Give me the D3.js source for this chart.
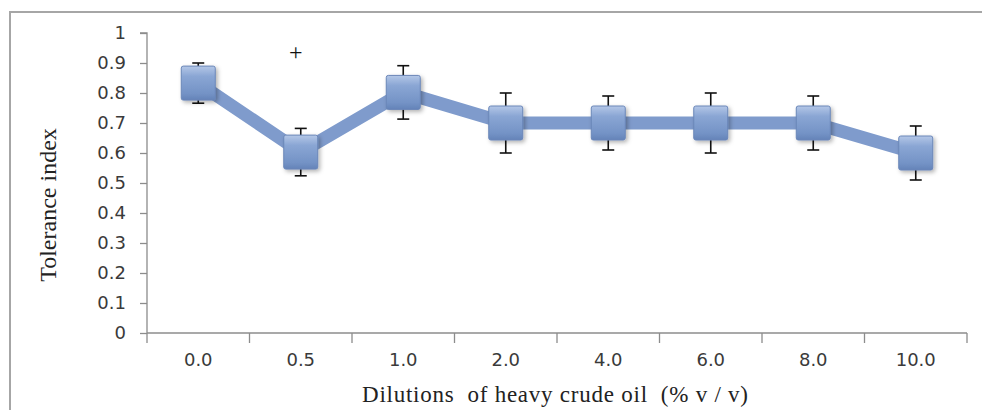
<!DOCTYPE html>
<html>
<head>
<meta charset="utf-8">
<script src="https://cdn.jsdelivr.net/npm/d3@7"></script>
<style>
  body { margin: 0; background: #fff; }
  .axis path, .axis line { stroke: #8c8c8c; stroke-width: 1.3; }
  .title { font-family: 'Liberation Serif', serif; fill: #222; }
</style>
</head>
<body>
<div id="target"></div>
<script>
const categories = ['0.0', '0.5', '1.0', '2.0', '4.0', '6.0', '8.0', '10.0'];
const means = [0.833, 0.603, 0.802, 0.7, 0.7, 0.7, 0.7, 0.6];
const errors = [0.067, 0.079, 0.089, 0.1, 0.09, 0.1, 0.09, 0.09];
const yTicks = [0, 0.1, 0.2, 0.3, 0.4, 0.5, 0.6, 0.7, 0.8, 0.9, 1];
const marks = [{cat: '0.5', value: 0.937, label: '+'}];

const width = 982;
const height = 410;
const margin = {top: 33, right: 15, bottom: 77, left: 147};

const svg = d3.select('#target')
  .append('svg')
  .attr('width', width)
  .attr('height', height);

const defs = svg.append('defs');
const grad = defs.append('linearGradient')
  .attr('id', 'box').attr('x1', 0).attr('y1', 0).attr('x2', 0).attr('y2', 1);
grad.append('stop').attr('offset', '0%').attr('stop-color', '#b4c7e7');
grad.append('stop').attr('offset', '30%').attr('stop-color', '#8aa6d4');
grad.append('stop').attr('offset', '80%').attr('stop-color', '#7493c6');
grad.append('stop').attr('offset', '100%').attr('stop-color', '#6483b8');
const shadow = defs.append('filter').attr('id', 'shadow')
  .attr('x', '-30%').attr('y', '-30%').attr('width', '170%').attr('height', '170%');
shadow.append('feDropShadow')
  .attr('dx', 2).attr('dy', 2).attr('stdDeviation', 2)
  .attr('flood-color', '#000').attr('flood-opacity', 0.3);

// outer frame
svg.append('rect')
  .attr('x', 10).attr('y', 12)
  .attr('width', width).attr('height', height)
  .attr('fill', 'none').attr('stroke', '#a6a6a6').attr('stroke-width', 2);

const x = d3.scaleBand()
  .domain(categories)
  .range([margin.left, width - margin.right]);

const y = d3.scaleLinear()
  .domain([0, 1])
  .range([height - margin.bottom, margin.top]);

const yAxis = svg.append('g')
  .attr('class', 'axis')
  .attr('transform', `translate(${margin.left},0)`)
  .call(d3.axisLeft(y).tickValues(yTicks).tickSize(7).tickPadding(14).tickFormat(d3.format('~g')));
yAxis.select('.domain').attr('d', `M-7,${y(1)}H0V${y(0)}`);

const xAxis = svg.append('g')
  .attr('class', 'axis')
  .attr('transform', `translate(0,${y(0)})`)
  .call(d3.axisBottom(x).tickSize(0).tickPadding(20));
xAxis.select('.domain').attr('d', `M${x.range()[0]},0H${x.range()[1]}`);
xAxis.selectAll('.edge')
  .data(categories.map((c) => x(c)).concat([x.range()[1]]))
  .enter().append('line')
  .attr('class', 'edge')
  .attr('x1', (d) => d).attr('x2', (d) => d)
  .attr('y1', 0).attr('y2', 10);

svg.selectAll('.axis')
  .attr('font-family', 'DejaVu Sans, sans-serif')
  .attr('font-size', 18);
svg.selectAll('.tick text')
  .attr('font-size', 18)
  .attr('fill', '#3a3a3a');

const cx = (i) => x(categories[i]) + x.bandwidth() / 2;

const line = d3.line()
  .x((d, i) => cx(i))
  .y((d) => y(d));

svg.append('path')
  .datum(means)
  .attr('fill', 'none')
  .attr('stroke', '#7f9bcc')
  .attr('stroke-width', 13)
  .attr('stroke-linejoin', 'miter')
  .attr('d', line);

const bars = svg.append('g').attr('stroke', '#111').attr('stroke-width', 1.6);
means.forEach((m, i) => {
  const g = bars.append('g');
  g.append('line').attr('x1', cx(i)).attr('x2', cx(i)).attr('y1', y(m + errors[i])).attr('y2', y(m - errors[i]));
  [m + errors[i], m - errors[i]].forEach((v) => {
    g.append('line').attr('x1', cx(i) - 6).attr('x2', cx(i) + 6).attr('y1', y(v)).attr('y2', y(v));
  });
});

const size = 34;
svg.append('g').selectAll('rect')
  .data(means)
  .enter().append('rect')
  .attr('x', (d, i) => cx(i) - size / 2)
  .attr('y', (d) => y(d) - size / 2)
  .attr('width', size).attr('height', size)
  .attr('rx', 2)
  .attr('fill', 'url(#box)')
  .attr('stroke', '#6a86b8').attr('stroke-width', 1)
  .attr('filter', 'url(#shadow)');

svg.selectAll('.mark')
  .data(marks)
  .enter().append('text')
  .attr('class', 'mark')
  .attr('x', (d) => x(d.cat) + x.bandwidth() / 2 - 5)
  .attr('y', (d) => y(d.value))
  .attr('dy', '0.35em')
  .attr('text-anchor', 'middle')
  .attr('font-family', 'Liberation Serif, serif')
  .attr('font-size', 24)
  .attr('fill', '#111')
  .text((d) => d.label);

svg.append('text')
  .attr('class', 'title')
  .attr('transform', `translate(56,${y(0.5) + 22}) rotate(-90)`)
  .attr('text-anchor', 'middle')
  .style('font-size', '24px')
  .text('Tolerance index');

svg.append('text')
  .attr('class', 'title')
  .attr('x', 555).attr('y', 402)
  .attr('text-anchor', 'middle')
  .attr('textLength', 386)
  .style('font-size', '23px')
  .attr('xml:space', 'preserve')
  .style('white-space', 'pre')
  .text('Dilutions  of heavy crude oil  (% v / v)');
</script>
</body>
</html>
